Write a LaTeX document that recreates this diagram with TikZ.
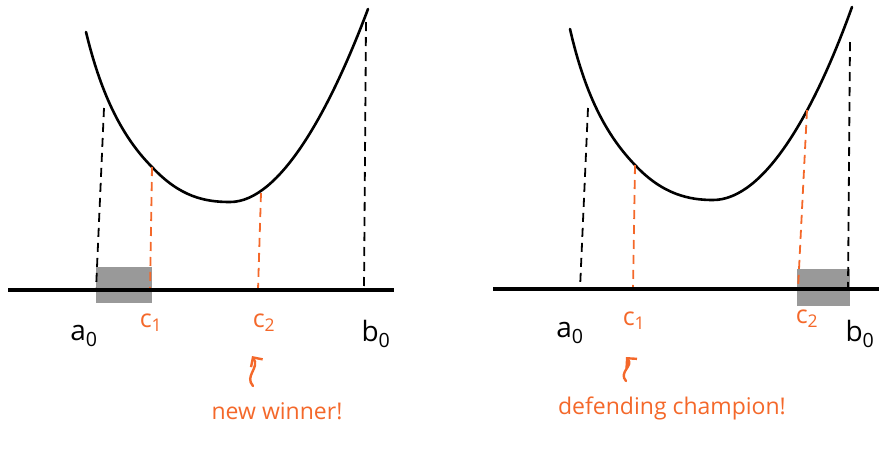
\documentclass[tikz,border=0pt]{standalone}
\usepackage{fontspec}
\setmainfont{Open Sans}
\usepackage{tikz}
\usetikzlibrary{arrows.meta,positioning}
\definecolor{PenOrange}{HTML}{F4682A}
\definecolor{KeepGray}{HTML}{999999}

\begin{document}
\begin{tikzpicture}[
  x=1pt,y=-1pt,
  curve/.style={line width=2.6pt,line cap=round,line join=round},
  axis/.style={line width=3.2pt},
  guide/.style={line width=1.8pt,dash pattern=on 9pt off 6pt},
  probe/.style={guide,PenOrange},
  keep/.style={fill=KeepGray,draw=none},
  lbl/.style={inner sep=0pt,font=\fontsize{28}{30}\selectfont},
  plbl/.style={lbl,text=PenOrange,font=\fontsize{25}{28}\selectfont},
  note/.style={inner sep=0pt,text=PenOrange,font=\fontsize{23}{26}\selectfont},
  hint/.style={-{Straight Barb[length=7pt,width=14pt]},PenOrange,line width=2.4pt,line cap=round}
]
\useasboundingbox (0,0) rectangle (879,448);

% left: c1 is dropped
\fill[keep] (96,267) rectangle (152,303);
\draw[curve] (86,32) .. controls (100,90) and (120,135) .. (152,167)
  .. controls (180,197) and (205,202) .. (230,202)
  .. controls (280,202) and (330,110) .. (368,9);
\coordinate (La0top) at (104,108); \coordinate (La0bot) at (96,290);
\coordinate (Lc1top) at (152,167); \coordinate (Lc1bot) at (150,290);
\coordinate (Lc2top) at (261,193); \coordinate (Lc2bot) at (258,290);
\coordinate (Lb0top) at (366,22);  \coordinate (Lb0bot) at (364,290);
\draw[guide] (La0top)--(La0bot); \draw[guide] (Lb0top)--(Lb0bot);
\draw[probe] (Lc1top)--(Lc1bot); \draw[probe] (Lc2top)--(Lc2bot);
\coordinate (Laxl) at (8,290); \coordinate (Laxr) at (394,290);
\draw[axis] (Laxl)--(Laxr);
\node[lbl] (La0) at (84,336) {a\textsubscript{0}};
\node[plbl] (Lc1) at (151,323) {c\textsubscript{1}};
\node[plbl] (Lc2) at (264,323) {c\textsubscript{2}};
\node[lbl] (Lb0) at (376,334) {b\textsubscript{0}};
\node[note] (Lnote) at (277,411) {new winner!};
\coordinate (Lhint) at (253,386);
\draw[hint] (Lhint) .. controls (244,376) and (260,368) .. (252,356);

% right: c2 is dropped
\fill[keep] (797,269) rectangle (850,306);
\draw[curve] (570,29) .. controls (584,90) and (604,133) .. (635,165)
  .. controls (663,195) and (690,200) .. (713,200)
  .. controls (765,200) and (815,110) .. (852,7);
\coordinate (Ra0top) at (588,108); \coordinate (Ra0bot) at (580,289);
\coordinate (Rc1top) at (635,165); \coordinate (Rc1bot) at (633,289);
\coordinate (Rc2top) at (807,110); \coordinate (Rc2bot) at (798,289);
\coordinate (Rb0top) at (850,42);  \coordinate (Rb0bot) at (848,289);
\draw[guide] (Ra0top)--(Ra0bot); \draw[guide] (Rb0top)--(Rb0bot);
\draw[probe] (Rc1top)--(Rc1bot); \draw[probe] (Rc2top)--(Rc2bot);
\coordinate (Raxl) at (493,289); \coordinate (Raxr) at (879,289);
\draw[axis] (Raxl)--(Raxr);
\node[lbl] (Ra0) at (570,333) {a\textsubscript{0}};
\node[plbl] (Rc1) at (634,321) {c\textsubscript{1}};
\node[plbl] (Rc2) at (807,319) {c\textsubscript{2}};
\node[lbl] (Rb0) at (860,334) {b\textsubscript{0}};
\node[note] (Rnote) at (672,408) {defending champion!};
\coordinate (Rhint) at (626,381);
\draw[hint] (Rhint) .. controls (618,372) and (634,366) .. (626,357);
\end{tikzpicture}
\end{document}
